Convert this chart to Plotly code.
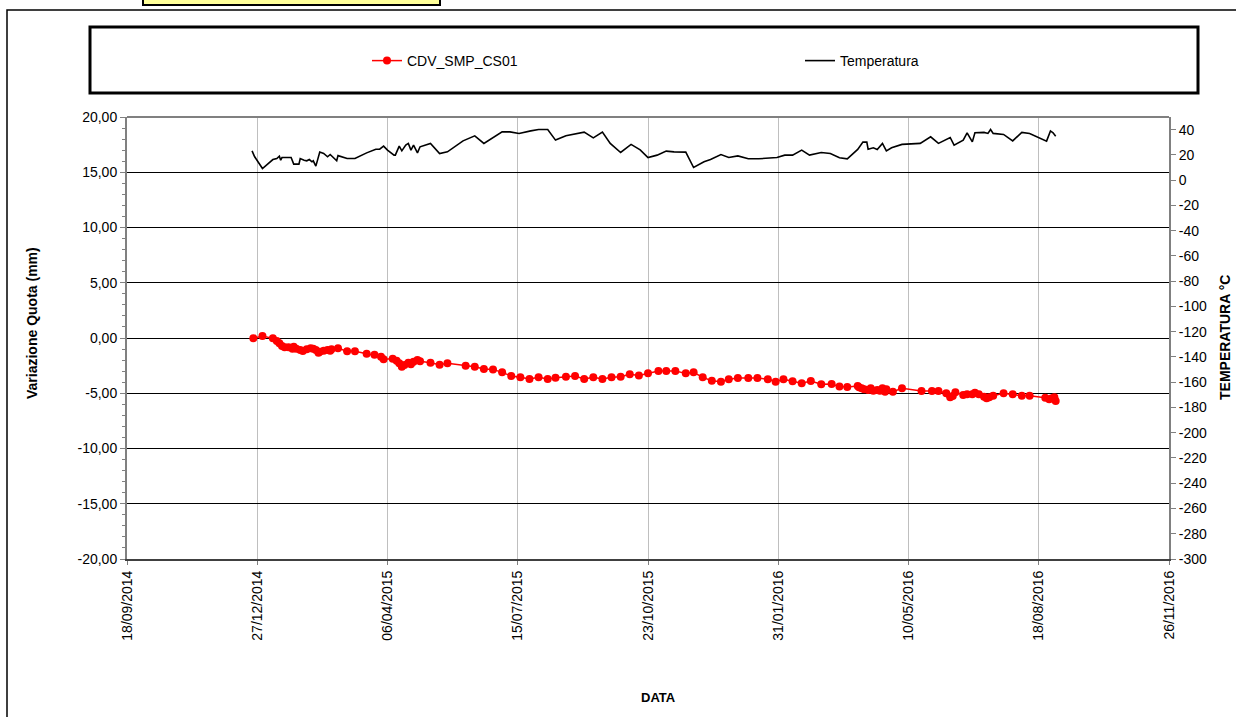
import pandas as pd
import plotly.graph_objects as go

START = "2014-09-18"

# Settlement series (days after 18/09/2014, mm)
red_day = [97, 104, 112, 115, 117, 119, 121, 124, 127, 128,
           130, 133, 135, 138, 141, 143, 145, 147, 148, 151,
           154, 156, 157, 162, 169, 175, 184, 190, 195, 197,
           204, 207, 209, 211, 213, 216, 218, 220, 223, 225,
           233, 240, 246, 260, 267, 274, 281, 288, 295, 302,
           309, 316, 323, 329, 337, 344, 351, 358, 365, 372,
           379, 386, 393, 400, 408, 414, 421, 429, 435, 442,
           449, 456, 462, 469, 477, 484, 492, 498, 504, 511,
           518, 525, 533, 541, 547, 553, 561, 562, 564, 566,
           569, 571, 573, 576, 578, 580, 582, 583, 588, 595,
           610, 618, 623, 629, 632, 634, 636, 642, 645, 649,
           651, 654, 658, 660, 662, 665, 673, 680, 687, 693,
           705, 708, 710, 712, 713]
red_val = [-0.03, 0.18, -0.03, -0.27, -0.48, -0.72, -0.84, -0.84, -0.97, -0.79,
           -0.97, -1.09, -1.18, -1.02, -0.93, -0.97, -1.09, -1.33, -1.24, -1.15,
           -1.09, -1.15, -1.02, -0.93, -1.20, -1.20, -1.42, -1.51, -1.69, -1.93,
           -1.87, -2.05, -2.29, -2.60, -2.44, -2.24, -2.38, -2.14, -1.99, -2.11,
           -2.24, -2.42, -2.29, -2.51, -2.60, -2.81, -2.84, -3.11, -3.44, -3.56,
           -3.71, -3.56, -3.71, -3.59, -3.50, -3.44, -3.71, -3.56, -3.71, -3.56,
           -3.50, -3.28, -3.40, -3.20, -2.99, -2.99, -2.99, -3.20, -3.11, -3.56,
           -3.86, -3.95, -3.74, -3.62, -3.62, -3.62, -3.74, -3.95, -3.74, -3.92,
           -4.10, -3.89, -4.19, -4.16, -4.40, -4.43, -4.34, -4.46, -4.55, -4.64,
           -4.71, -4.55, -4.77, -4.71, -4.77, -4.55, -4.86, -4.64, -4.86, -4.55,
           -4.80, -4.80, -4.80, -5.00, -5.37, -5.25, -4.91, -5.16, -5.10, -5.10,
           -4.95, -5.10, -5.31, -5.46, -5.37, -5.22, -5.00, -5.10, -5.22, -5.22,
           -5.40, -5.55, -5.46, -5.37, -5.70]

# Temperature series (days after 18/09/2014, degC)
temp_day = [96, 98, 104, 112, 115, 117, 118, 119, 126, 128,
            132, 133, 136, 138, 140, 142, 143, 145, 148, 151,
            154, 156, 161, 162, 169, 175, 184, 191, 194, 197,
            200, 205, 206, 209, 211, 214, 216, 218, 220, 223,
            225, 233, 240, 246, 258, 267, 274, 288, 294, 301,
            310, 316, 323, 329, 337, 343, 351, 358, 365, 371,
            379, 387, 394, 400, 407, 414, 420, 429, 435, 443,
            448, 456, 462, 469, 477, 485, 494, 499, 505, 511,
            518, 524, 533, 540, 547, 553, 561, 565, 568, 569,
            573, 576, 580, 583, 587, 595, 609, 617, 623, 632,
            635, 642, 645, 649, 651, 658, 661, 663, 665, 673,
            680, 687, 693, 706, 709, 711, 713]
temp_val = [23.2, 18.5, 9.2, 16.3, 17.1, 19.0, 15.8, 17.9, 17.9, 12.7,
            12.7, 17.1, 15.8, 15.3, 16.3, 14.5, 15.3, 11.1, 22.2, 21.1,
            18.5, 20.3, 15.3, 19.4, 17.1, 17.1, 21.6, 24.5, 24.5, 26.9,
            23.8, 19.8, 19.8, 26.9, 23.2, 27.7, 29.1, 23.8, 27.7, 21.6,
            26.4, 29.1, 21.1, 22.4, 31.1, 35.1, 29.1, 38.2, 38.2, 37.0,
            39.0, 40.1, 40.1, 31.7, 35.1, 36.2, 38.0, 33.5, 38.0, 29.1,
            21.9, 28.3, 24.0, 17.9, 19.8, 23.0, 22.4, 22.2, 10.0, 14.5,
            16.3, 20.3, 17.9, 19.2, 16.9, 16.9, 17.9, 17.9, 19.8, 19.8,
            23.8, 19.8, 21.9, 21.1, 17.7, 16.9, 24.3, 30.1, 30.1, 24.5,
            25.6, 24.3, 29.1, 23.2, 25.6, 28.3, 29.1, 34.3, 29.1, 33.8,
            27.7, 31.7, 37.5, 30.3, 37.5, 37.8, 37.0, 40.1, 37.0, 36.2,
            31.1, 37.8, 37.0, 30.9, 39.0, 37.5, 34.8]

x_range = ["2014-09-18", "2016-11-26"]
y_range = [-20, 20]
y2_range = [-300, 50]
y_ticks = [-20, -15, -10, -5, 0, 5, 10, 15, 20]
y2_ticks = list(range(-300, 41, 20))

start = pd.Timestamp(START)
red_x = start + pd.to_timedelta(red_day, unit="D")
temp_x = start + pd.to_timedelta(temp_day, unit="D")

y_ticktext = [f"{v:.2f}".replace(".", ",") for v in y_ticks]
y2_ticktext = [str(v) for v in y2_ticks]

FONT = "Liberation Sans, Arial, sans-serif"

fig = go.Figure()
fig.add_trace(go.Scatter(
    x=red_x, y=red_val, name="CDV_SMP_CS01", mode="lines+markers",
    line=dict(color="#FF0000", width=1.5),
    marker=dict(color="#FF0000", size=8, symbol="circle"),
    yaxis="y", legend="legend"))
fig.add_trace(go.Scatter(
    x=temp_x, y=temp_val, name="Temperatura", mode="lines",
    line=dict(color="#000000", width=1.6),
    yaxis="y2", legend="legend2"))

# plot area geometry in pixels
W, H = 1236, 717
L, R, T, B = 127, 1169, 117, 559
pw, ph = R - L, B - T


def px(x):
    return (x - L) / pw


def py(y):
    return (B - y) / ph


shapes = [
    # outer chart border
    dict(type="rect", xref="paper", yref="paper", x0=px(7), x1=px(1245),
         y0=py(730), y1=py(10), line=dict(color="#000000", width=1.5)),
    # yellow title box (cut at top)
    dict(type="rect", xref="paper", yref="paper", x0=px(143), x1=px(440),
         y0=py(5), y1=py(-10), fillcolor="#FFFF99",
         line=dict(color="#000000", width=2)),
    # legend box
    dict(type="rect", xref="paper", yref="paper", x0=px(90), x1=px(1198),
         y0=py(93), y1=py(27), line=dict(color="#000000", width=3)),
    # top border of plot area
    dict(type="line", xref="paper", yref="paper", x0=0, x1=1, y0=1, y1=1,
         line=dict(color="#808080", width=2)),
]

legend_common = dict(orientation="h", xanchor="left", yanchor="middle",
                     bgcolor="rgba(0,0,0,0)", itemwidth=30,
                     font=dict(family=FONT, size=14, color="#000000"))

fig.update_layout(
    width=W, height=H,
    margin=dict(l=L, r=W - R, t=T, b=H - B, pad=0),
    paper_bgcolor="white", plot_bgcolor="white",
    font=dict(family=FONT, size=14, color="#000000"),
    showlegend=True,
    legend=dict(x=px(367), y=py(61), **legend_common),
    legend2=dict(x=px(800), y=py(61), **legend_common),
    xaxis=dict(
        type="date", range=x_range, tick0=START, dtick=100 * 86400000,
        tickformat="%d/%m/%Y", tickangle=-90,
        showgrid=True, gridcolor="#BFBFBF", gridwidth=1,
        showline=True, linecolor="#404040", linewidth=2,
        ticks="outside", ticklen=4, tickcolor="#808080",
        tickfont=dict(family=FONT, size=14), zeroline=False),
    yaxis=dict(
        range=y_range, tickmode="array", tickvals=y_ticks,
        ticktext=y_ticktext,
        showgrid=True, gridcolor="#000000", gridwidth=1, zeroline=False,
        showline=True, linecolor="#808080", linewidth=2,
        ticks="outside", ticklen=5, tickcolor="#808080",
        minor=dict(tick0=0, dtick=1, ticks="outside", ticklen=3,
                   tickcolor="#808080", showgrid=False),
        tickfont=dict(family=FONT, size=14)),
    yaxis2=dict(
        range=y2_range, tickmode="array", tickvals=y2_ticks,
        ticktext=y2_ticktext, overlaying="y", side="right",
        showgrid=False, zeroline=False,
        showline=True, linecolor="#808080", linewidth=2,
        ticks="outside", ticklen=5, tickcolor="#808080",
        tickfont=dict(family=FONT, size=14)),
    shapes=shapes,
    annotations=[
        dict(text="<b>Variazione Quota (mm)</b>", xref="paper", yref="paper",
             x=px(32), y=py(323), xanchor="center", yanchor="middle",
             textangle=-90, showarrow=False,
             font=dict(family=FONT, size=14)),
        dict(text="<b>TEMPERATURA °C</b>", xref="paper", yref="paper",
             x=px(1225), y=py(338), xanchor="center", yanchor="middle",
             textangle=-90, showarrow=False,
             font=dict(family=FONT, size=14)),
        dict(text="<b>DATA</b>", xref="paper", yref="paper",
             x=px(658), y=py(697), xanchor="center", yanchor="middle",
             showarrow=False, font=dict(family=FONT, size=13)),
    ],
)

fig.write_html(
    "out.html",
    config={"displayModeBar": False},
    post_script="document.body.style.margin='0';"
                "document.body.style.overflow='hidden';")
